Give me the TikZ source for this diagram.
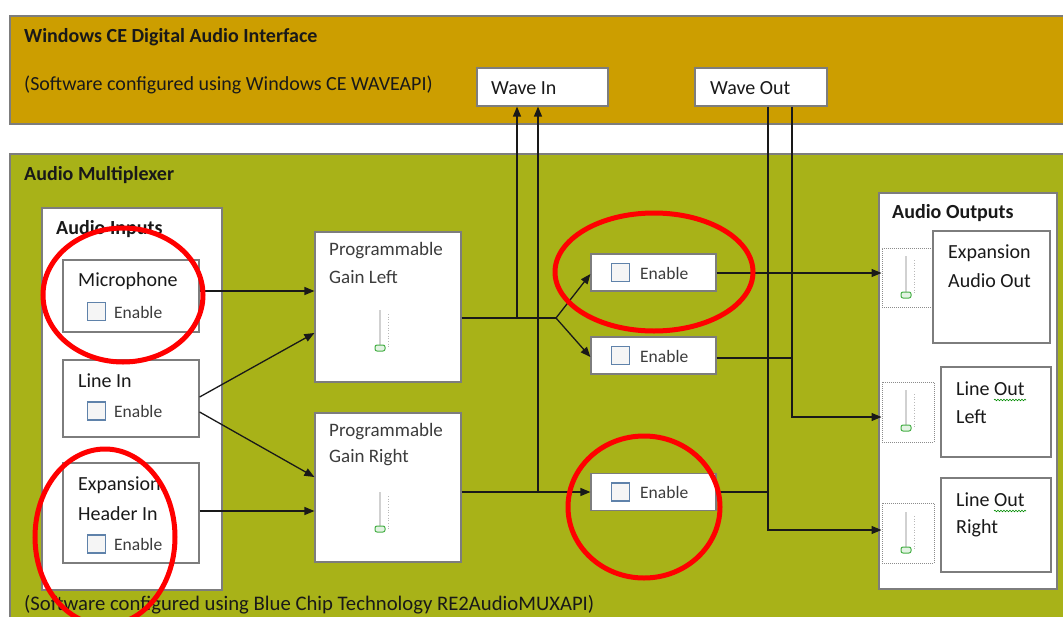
\documentclass[tikz,border=0pt]{standalone}
\usepackage{fontspec}
\setmainfont{Carlito}
\usetikzlibrary{arrows.meta,decorations.pathmorphing,calc}
\definecolor{gold}{RGB}{204,158,0}
\definecolor{olive}{RGB}{168,178,24}
\definecolor{edge}{RGB}{125,125,125}
\definecolor{ink}{RGB}{25,25,25}
\definecolor{inkg}{RGB}{60,60,60}
\definecolor{cbblue}{RGB}{95,130,170}
\definecolor{knob}{RGB}{70,175,70}
\newcommand{\vslider}[3]{%
  \draw[black!18, line width=2pt] (#1,#2) -- (#1,#3);
  \draw[black!28, dotted, line width=0.7pt] (#1+8,#2+4) -- (#1+8,#3);
  \draw[knob, fill=knob!15, line width=1pt, rounded corners=2pt] (#1-5,#3-3) rectangle (#1+5,#3+3);
}
\begin{document}
\begin{tikzpicture}[x=1pt,y=-1pt,
  box/.style={draw=edge, line width=1.2pt, fill=white, inner sep=0pt},
  sbox/.style={draw=black!45, densely dotted, line width=1pt, fill=white, inner sep=0pt},
  txt/.style={anchor=west, inner sep=0pt, text=ink, font=\fontsize{20}{24}\selectfont},
  gtxt/.style={txt, text=inkg, font=\fontsize{19}{23}\selectfont},
  btxt/.style={txt, font=\fontsize{20}{24}\selectfont\bfseries},
  etxt/.style={txt, text=inkg, font=\fontsize{17.5}{21}\selectfont},
  conn/.style={line width=1.3pt, draw=black!90},
  arr/.style={conn, -{Triangle[length=10pt,width=8pt]}},
  circ/.style={draw=red, line width=5pt},
  cb/.style={draw=cbblue, line width=1.1pt, fill=black!4, minimum width=18pt, minimum height=18pt, inner sep=0pt},
  wavy/.style={draw=green!55!black, line width=0.6pt, decorate, decoration={snake, amplitude=0.8pt, segment length=3pt}}
]
\useasboundingbox (0,0) rectangle (1063,616);
\fill[white] (0,0) rectangle (1063,616);

% containers
\draw[draw=edge, fill=gold, line width=1.2pt] (10,16) rectangle (1080,124);
\draw[draw=edge, fill=olive, line width=1.2pt] (10,154) rectangle (1080,640);

\node[btxt] (t-wce) at (24,37) {Windows CE Digital Audio Interface};
\node[txt] (t-wce2) at (24,85) {(Software configured using Windows CE WAVEAPI)};
\node[btxt] (t-mux) at (24,175) {Audio Multiplexer};
\node[txt, font=\fontsize{20.7}{24}\selectfont] (t-mux2) at (24,605) {(Software configured using Blue Chip Technology RE2AudioMUXAPI)};

% wave in / out
\node[box, minimum width=131pt, minimum height=38pt] (wavein) at (542.5,87) {};
\node[txt] (wavein-t) at (491,88) {Wave In};
\node[box, minimum width=132pt, minimum height=38pt] (waveout) at (761,87) {};
\node[txt] (waveout-t) at (710,88) {Wave Out};

% audio inputs
\draw[box] (42,208) rectangle (222,590);
\node[btxt] (t-in) at (56,229) {Audio Inputs};

\node[box, minimum width=136pt, minimum height=72pt] (mic) at (131,296) {};
\node[txt] (mic-t) at (78,281) {Microphone};
\node[cb] (mic-cb) at (96.5,311.5) {};
\node[etxt] (mic-e) at (114,312) {Enable};

\node[box, minimum width=136pt, minimum height=77pt] (linein) at (131,398.5) {};
\node[txt] (linein-t) at (78,381) {Line In};
\node[cb] (linein-cb) at (96.5,411) {};
\node[etxt] (linein-e) at (114,411) {Enable};

\node[box, minimum width=136pt, minimum height=100pt] (exph) at (131,513) {};
\node[txt] (exph-t1) at (78,485) {Expansion};
\node[txt] (exph-t2) at (78,514) {Header In};
\node[cb] (exph-cb) at (96.5,544) {};
\node[etxt] (exph-e) at (114,544) {Enable};

% programmable gains
\node[box, minimum width=146pt, minimum height=150pt] (pgl) at (388,307) {};
\node[gtxt] (pgl-t1) at (329,251) {Programmable};
\node[gtxt] (pgl-t2) at (329,277) {Gain Left};
\vslider{380}{310}{348}
\node[box, minimum width=146pt, minimum height=149pt] (pgr) at (388,487.5) {};
\node[gtxt] (pgr-t1) at (329,432) {Programmable};
\node[gtxt] (pgr-t2) at (329,458) {Gain Right};
\vslider{380}{492}{529}

% enable switches
\node[box, minimum width=125pt, minimum height=37pt] (en1) at (653.5,272.5) {};
\node[cb] (en1-cb) at (620.5,272.5) {};
\node[etxt] (en1-e) at (640,273) {Enable};
\node[box, minimum width=125pt, minimum height=37pt] (en2) at (653.5,355.5) {};
\node[cb] (en2-cb) at (620.5,355.5) {};
\node[etxt] (en2-e) at (640,356) {Enable};
\node[box, minimum width=125pt, minimum height=37pt] (en3) at (653.5,492) {};
\node[cb] (en3-cb) at (620.5,492) {};
\node[etxt] (en3-e) at (640,492) {Enable};

% audio outputs
\draw[box] (879,193) rectangle (1057,589);
\node[btxt] (t-out) at (892,213) {Audio Outputs};

\node[sbox, minimum width=52pt, minimum height=59pt] (s1) at (908,277.5) {};
\vslider{906}{256}{295}
\node[box, minimum width=117pt, minimum height=112pt] (eao) at (991.5,287) {};
\node[txt] (eao-t1) at (948,253) {Expansion};
\node[txt] (eao-t2) at (948,281) {Audio Out};

\node[sbox, minimum width=52pt, minimum height=60pt] (s2) at (908,412) {};
\vslider{906}{390}{428}
\node[box, minimum width=110pt, minimum height=90pt] (lol) at (996,412) {};
\node[txt] (lol-t1) at (956,389) {Line Out};
\node[txt] (lol-t2) at (956,417) {Left};
\draw[wavy] (994,400) -- (1026,400);

\node[sbox, minimum width=52pt, minimum height=60pt] (s3) at (908,533) {};
\vslider{906}{512}{550}
\node[box, minimum width=110pt, minimum height=94pt] (lor) at (996,525) {};
\node[txt] (lor-t1) at (956,500) {Line Out};
\node[txt] (lor-t2) at (956,528) {Right};
\draw[wavy] (994,511) -- (1026,511);

% connectors
\coordinate (j1) at (556,318);
\coordinate (v1) at (517,318);
\coordinate (v2) at (538,492);
\coordinate (w1) at (768,492);
\coordinate (w2) at (792,358);

\draw[arr] (mic.east |- 0,291) -- (pgl.west |- 0,291);
\draw[arr] (linein.east |- 0,397) -- (pgl.west |- 0,333);
\draw[arr] (linein.east |- 0,412) -- (pgr.west |- 0,477);
\draw[arr] (exph.east |- 0,511) -- (pgr.west |- 0,511);

\draw[conn] (pgl.east |- j1) -- (j1);
\draw[arr] (j1) -- (en1.west |- 0,274);
\draw[arr] (j1) -- (en2.west |- 0,357);
\draw[arr] (v1) -- (v1 |- wavein.south);
\draw[arr] (pgr.east |- v2) -- (en3.west);
\draw[arr] (v2) -- (v2 |- wavein.south);

\draw[arr] (en1.east |- 0,273) -- (s1.west |- 0,273);
\draw[conn] (en2.east |- w2) -- (w2);
\draw[conn] (en3.east) -- (w1);
\draw[arr] (w2 |- waveout.south) -- (792,417) -- (s2.west |- 0,417);
\draw[arr] (w1 |- waveout.south) -- (768,530) -- (s3.west |- 0,530);

% red annotation rings
\draw[circ] (123,295) ellipse [x radius=80pt, y radius=67pt];
\draw[circ] (105,537) ellipse [x radius=70pt, y radius=88pt];
\draw[circ] (654,272) ellipse [x radius=99pt, y radius=59pt];
\draw[circ] (644,507) ellipse [x radius=76pt, y radius=71pt];
\end{tikzpicture}
\end{document}
